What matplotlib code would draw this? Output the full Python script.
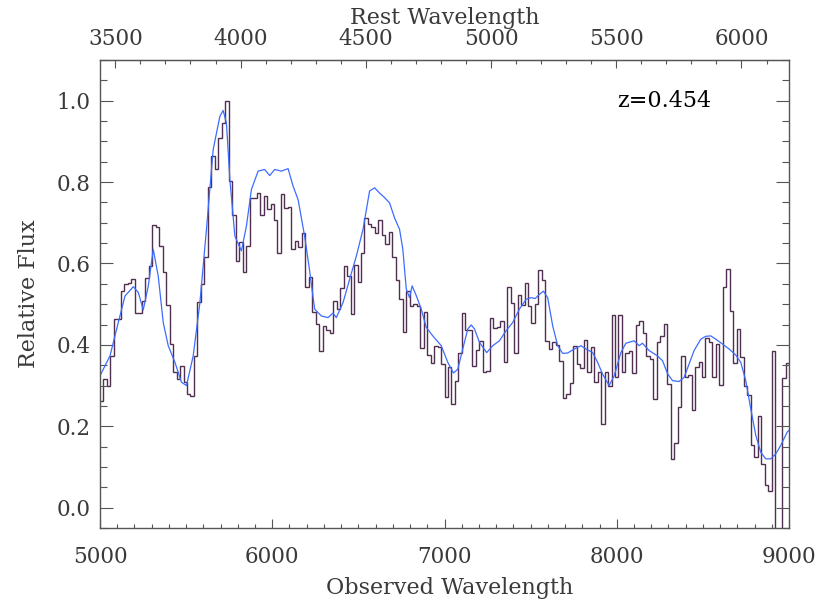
import matplotlib.pyplot as plt
import numpy as np
from matplotlib.ticker import MultipleLocator

# redshift of the object
z = 0.454

# observed wavelength range of the binned spectrum
wave_lo = 5000
wave_hi = 9000

# labelled ticks on the rest-frame (top) axis
rest_ticks = [3500, 4000, 4500, 5000, 5500, 6000]

# binned spectrum, relative flux (read bin by bin off the plot)
flux = [0.263, 0.316, 0.300, 0.373, 0.463, 0.463, 0.533, 0.549, 0.553, 0.563,
        0.478, 0.478, 0.508, 0.564, 0.594, 0.694, 0.690, 0.643, 0.579, 0.497,
        0.402, 0.333, 0.316, 0.348, 0.309, 0.279, 0.275, 0.373, 0.505, 0.549,
        0.615, 0.787, 0.864, 0.833, 0.909, 0.946, 1.000, 0.802, 0.720, 0.606,
        0.652, 0.579, 0.643, 0.762, 0.762, 0.774, 0.720, 0.766, 0.735, 0.745,
        # 6000 - 6900
        0.707, 0.625, 0.770, 0.737, 0.740, 0.635, 0.655, 0.640, 0.674, 0.541,
        0.566, 0.481, 0.451, 0.385, 0.446, 0.437, 0.429, 0.507, 0.488, 0.539,
        0.593, 0.570, 0.475, 0.596, 0.555, 0.625, 0.711, 0.696, 0.690, 0.676,
        0.707, 0.670, 0.647, 0.677, 0.615, 0.559, 0.512, 0.431, 0.533, 0.495,
        0.500, 0.496, 0.392, 0.480,
        # 6900 - 7950
        0.375, 0.355, 0.398, 0.394, 0.353, 0.273, 0.345, 0.255, 0.312, 0.380,
        0.478, 0.436, 0.436, 0.349, 0.387, 0.409, 0.333, 0.336, 0.465, 0.441,
        0.444, 0.459, 0.357, 0.541, 0.504, 0.380, 0.522, 0.497, 0.551, 0.496,
        0.453, 0.501, 0.584, 0.559, 0.409, 0.391, 0.406, 0.400, 0.361, 0.269,
        0.279, 0.306, 0.398, 0.354, 0.342, 0.413, 0.333, 0.394, 0.308, 0.333,
        0.206, 0.334,
        # 7950 - 9000
        0.300, 0.473, 0.320, 0.473, 0.333, 0.379, 0.384, 0.330, 0.449, 0.459,
        0.428, 0.372, 0.365, 0.267, 0.408, 0.421, 0.451, 0.304, 0.120, 0.159,
        0.247, 0.372, 0.322, 0.326, 0.240, 0.345, 0.357, 0.322, 0.418, 0.408,
        0.322, 0.402, 0.301, 0.541, 0.587, 0.482, 0.355, 0.440, 0.371, 0.298,
        0.277, 0.153, 0.124, 0.226, 0.108, 0.056, 0.042, 0.384, -0.080, -0.080,
        0.318, 0.355]

# smoothed template fit (blue curve)
tmpl_wave = [5000, 5058, 5106, 5145, 5193, 5222, 5251, 5280, 5309, 5338,
             5367, 5396, 5435, 5473, 5502, 5541, 5580, 5618, 5657, 5696,
             5715, 5734, 5754, 5783, 5821, 5850, 5879, 5918, 5956, 5985,
             6014, 6053, 6092, 6121, 6150, 6188, 6217, 6246, 6285, 6324,
             6352, 6372, 6411, 6449, 6488, 6527, 6565, 6594, 6623, 6652,
             6681, 6710, 6739, 6758, 6778, 6797, 6812, 6836, 6865, 6894,
             6932, 6981, 7019, 7052, 7077, 7106, 7135, 7155, 7174, 7203,
             7245, 7280, 7319, 7358, 7396, 7435, 7474, 7502, 7527, 7551,
             7574, 7599, 7628, 7657, 7686, 7715, 7754, 7792, 7821, 7860,
             7889, 7918, 7956, 7985, 8024, 8053, 8101, 8130, 8149, 8188,
             8236, 8266, 8295, 8324, 8362, 8391, 8420, 8449, 8488, 8517,
             8546, 8575, 8614, 8652, 8691, 8720, 8749, 8778, 8807, 8836,
             8865, 8894, 8923, 8952, 8990, 9000]
tmpl_flux = [0.324, 0.373, 0.455, 0.520, 0.543, 0.529, 0.486, 0.544, 0.635, 0.569,
             0.455, 0.398, 0.357, 0.308, 0.300, 0.373, 0.504, 0.684, 0.880, 0.962,
             0.976, 0.945, 0.806, 0.667, 0.631, 0.692, 0.782, 0.827, 0.831, 0.816,
             0.831, 0.827, 0.833, 0.790, 0.757, 0.667, 0.582, 0.488, 0.471, 0.467,
             0.478, 0.467, 0.504, 0.561, 0.618, 0.684, 0.778, 0.786, 0.773, 0.762,
             0.749, 0.712, 0.684, 0.635, 0.537, 0.516, 0.545, 0.521, 0.488, 0.443,
             0.422, 0.398, 0.357, 0.331, 0.340, 0.390, 0.439, 0.449, 0.439, 0.406,
             0.381, 0.398, 0.410, 0.435, 0.455, 0.488, 0.512, 0.516, 0.514, 0.524,
             0.532, 0.516, 0.447, 0.398, 0.379, 0.380, 0.390, 0.398, 0.390, 0.381,
             0.357, 0.328, 0.300, 0.324, 0.381, 0.404, 0.410, 0.398, 0.404, 0.386,
             0.373, 0.361, 0.329, 0.312, 0.310, 0.320, 0.353, 0.386, 0.414, 0.421,
             0.422, 0.414, 0.402, 0.390, 0.375, 0.357, 0.312, 0.243, 0.178, 0.136,
             0.120, 0.120, 0.132, 0.153, 0.186, 0.190]

edges = np.linspace(wave_lo, wave_hi, len(flux) + 1)

plt.rcParams['font.family'] = ['DejaVu Serif']
axcol = '#555555'
txtcol = '#3a3a3a'

fig = plt.figure(figsize=(8.3, 6.08), dpi=100)
ax = fig.add_axes([0.1205, 0.1316, 0.8301, 0.7697])

ax.stairs(flux, edges, baseline=None, color='#503050', lw=1.0)
ax.plot(tmpl_wave, tmpl_flux, color='#3d6cff', lw=0.9)

ax.set_xlim(wave_lo, wave_hi)
ax.set_ylim(-0.05, 1.10)

ax.xaxis.set_major_locator(MultipleLocator(1000))
ax.xaxis.set_minor_locator(MultipleLocator(100))
ax.yaxis.set_major_locator(MultipleLocator(0.2))
ax.yaxis.set_minor_locator(MultipleLocator(0.05))
ax.yaxis.set_major_formatter(lambda v, p: '%.1f' % v)

for s in ax.spines.values():
    s.set_color(axcol)
    s.set_linewidth(1.0)

ax.tick_params(axis='x', which='both', direction='in', top=False, colors=axcol,
               labelcolor=txtcol, labelsize=15.5, pad=13, width=0.8)
ax.tick_params(axis='x', which='major', length=6.5)
ax.tick_params(axis='x', which='minor', length=3.2)
ax.tick_params(axis='y', which='both', direction='in', right=True, colors=axcol,
               labelcolor=txtcol, labelsize=15.5, pad=7, width=0.8)
ax.tick_params(axis='y', which='major', length=9.4)
ax.tick_params(axis='y', which='minor', length=5)

ax.set_xlabel('Observed Wavelength', fontsize=16, color=txtcol)
ax.xaxis.set_label_coords(0.508, -0.105)
ax.set_ylabel('Relative Flux', fontsize=16, color=txtcol)
ax.yaxis.set_label_coords(-0.087, 0.5)

# rest-frame wavelength on the top axis
sec = ax.secondary_xaxis('top', functions=(lambda x: x / (1 + z), lambda x: x * (1 + z)))
sec.set_xticks(rest_ticks)
sec.xaxis.set_minor_locator(MultipleLocator(100))
sec.tick_params(which='both', direction='in', colors=axcol, labelcolor=txtcol,
                labelsize=15.5, pad=7, width=0.8)
sec.tick_params(which='major', length=5.8)
sec.tick_params(which='minor', length=2.9)
sec.spines['top'].set_color(axcol)
sec.set_xlabel('Rest Wavelength', fontsize=16, color=txtcol, labelpad=3)

ax.text(8000, 1.0, 'z=%.3f' % z, fontsize=16, color='black', va='center')

fig.savefig('out.png', dpi=100)
